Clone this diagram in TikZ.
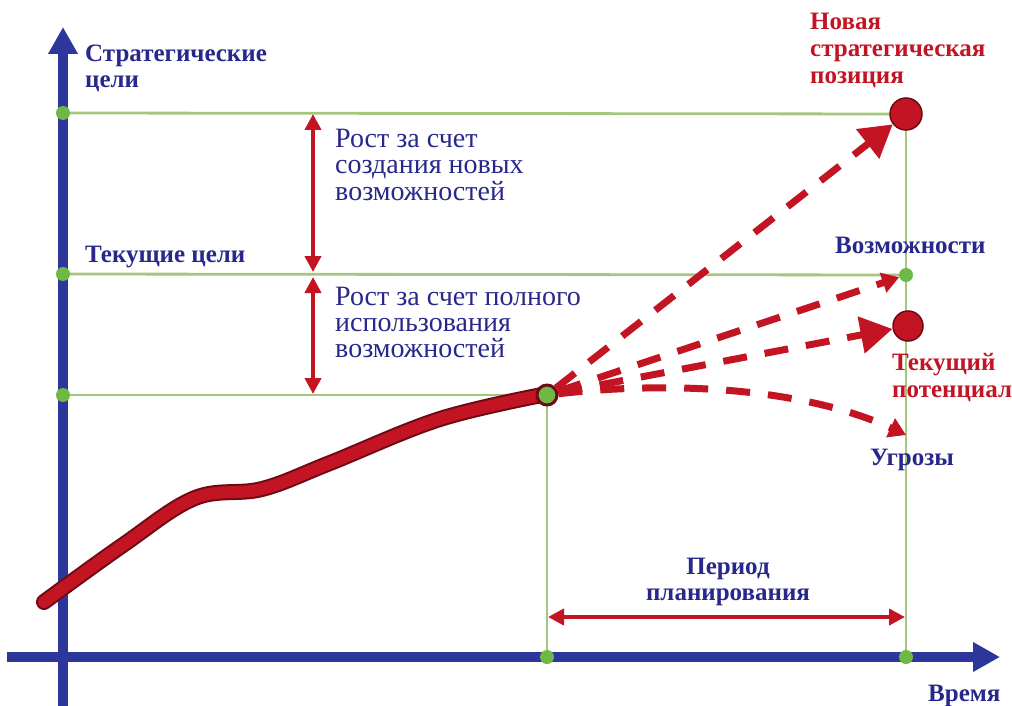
\documentclass[tikz,border=0pt]{standalone}
\usepackage{fontspec}
\setmainfont{Liberation Serif}
\usetikzlibrary{arrows.meta}
\definecolor{navy}{RGB}{40,40,140}
\definecolor{axisblue}{RGB}{45,55,155}
\definecolor{gline}{RGB}{165,198,125}
\definecolor{gdotc}{RGB}{110,185,70}
\definecolor{redc}{RGB}{195,20,35}
\definecolor{darkredc}{RGB}{110,10,20}
\tikzset{
  axis/.style={draw=axisblue, line width=10pt, -{Triangle[length=27pt,width=28pt]}},
  gridline/.style={draw=gline, line width=2.8pt},
  gdot/.style={circle, fill=gdotc, inner sep=0pt, minimum size=14pt},
  rdot/.style={circle, fill=redc, draw=darkredc, line width=1.5pt, inner sep=0pt, minimum size=32pt},
  enddot/.style={circle, fill=gdotc, draw=darkredc, line width=3pt, inner sep=0pt, minimum size=20pt},
  dimarrow/.style={draw=redc, line width=4pt, {Triangle[length=16pt,width=16pt]}-{Triangle[length=16pt,width=16pt]}},
  fan/.style={draw=redc, line width=7pt, dash pattern=on 24pt off 18pt},
  bigtip/.style={-{Triangle[length=32pt,width=36pt]}},
  smalltip/.style={-{Triangle[length=17pt,width=20pt]}},
  blab/.style={font=\fontsize{25}{26}\selectfont\bfseries, text=navy, inner sep=0pt, align=left},
  rlab/.style={font=\fontsize{25}{27}\selectfont\bfseries, text=redc, inner sep=0pt, align=left},
  nlab/.style={font=\fontsize{28}{26}\selectfont, text=navy, inner sep=0pt, align=left},
  growth/.style={line cap=round, smooth, tension=0.6},
}
\begin{document}
\begin{tikzpicture}[x=1pt,y=-1pt]
\useasboundingbox[fill=white] (0,0) rectangle (1012,706);
% positions
\coordinate (yS) at (63,113);
\coordinate (yC) at (63,274);
\coordinate (yP) at (63,395);
\coordinate (pE) at (547,395);
\coordinate (xP) at (547,657);
\coordinate (xE) at (906,657);
\coordinate (nP) at (906,114);
\coordinate (oP) at (906,275);
\coordinate (cP) at (908,326);
\coordinate (tP) at (906,435);
\coordinate (yBot) at (63,706);
\coordinate (yTop) at (63,27);
\coordinate (xLeft) at (7,657);
\coordinate (xRight) at (1000,657);
% grid lines
\draw[gridline] (yS) -- (nP);
\draw[gridline] (yC) -- (oP);
\draw[gridline] (yP) -- (pE);
\draw[gridline] (pE) -- (xP);
\draw[gridline] (nP) -- (xE);
% axes
\draw[axis] (yBot) -- (yTop);
\draw[axis] (xLeft) -- (xRight);
% dots
\node[gdot] (dS) at (yS) {};
\node[gdot] (dC) at (yC) {};
\node[gdot] (dP) at (yP) {};
\node[gdot] (dxP) at (xP) {};
\node[gdot] (dxE) at (xE) {};
\node[gdot] (opp) at (oP) {};
\node[rdot] (newpos) at (nP) {};
\node[rdot, minimum size=30pt] (curpot) at (cP) {};
\coordinate (thr) at (tP);
% growth curve
\draw[darkredc, line width=16pt, line cap=round] plot[smooth, tension=0.6] coordinates {(44,602) (123,545) (195,498) (262,489) (330,463) (440,419) (547,394)};
\draw[redc, line width=12pt, line cap=round] plot[smooth, tension=0.6] coordinates {(44,602) (123,545) (195,498) (262,489) (330,463) (440,419) (547,394)};
\node[enddot] (pend) at (pE) {};
% fan of dashed arrows
\draw[fan, bigtip] (pend) -- (newpos);
\draw[fan, smalltip] (pend) -- (opp);
\draw[fan, bigtip] (pend) -- (curpot);
\draw[fan, smalltip] (pend) .. controls (700,378) and (820,395) .. (thr);
% dimension arrows
\coordinate (a1) at (313,114);
\coordinate (a2) at (313,272);
\coordinate (a3) at (313,277);
\coordinate (a4) at (313,394);
\draw[dimarrow] (a1) -- (a2);
\draw[dimarrow] (a3) -- (a4);
\coordinate (p1) at (548,617);
\coordinate (p2) at (905,617);
\draw[dimarrow] (p1) -- (p2);
% labels (anchor = baseline of last line)
\node[blab, anchor=base west] (lS) at (85,88) {Стратегические\\цели};
\node[blab, anchor=base west] (lC) at (85,262) {Текущие цели};
\node[nlab, anchor=base west] (g1) at (335,200) {Рост за счет\\создания новых\\возможностей};
\node[nlab, anchor=base west] (g2) at (335,357) {Рост за счет полного\\использования\\возможностей};
\node[rlab, anchor=base west] (lN) at (810,84) {Новая\\стратегическая\\позиция};
\node[blab, anchor=base west] (lO) at (835,253) {Возможности};
\node[rlab, anchor=base west] (lT) at (892,397) {Текущий\\потенциал};
\node[blab, anchor=base west] (lU) at (870,465) {Угрозы};
\node[blab, align=center, anchor=base] (lPer) at (728,600) {Период\\планирования};
\node[blab, anchor=base west] (lV) at (928,701) {Время};
\end{tikzpicture}
\end{document}
